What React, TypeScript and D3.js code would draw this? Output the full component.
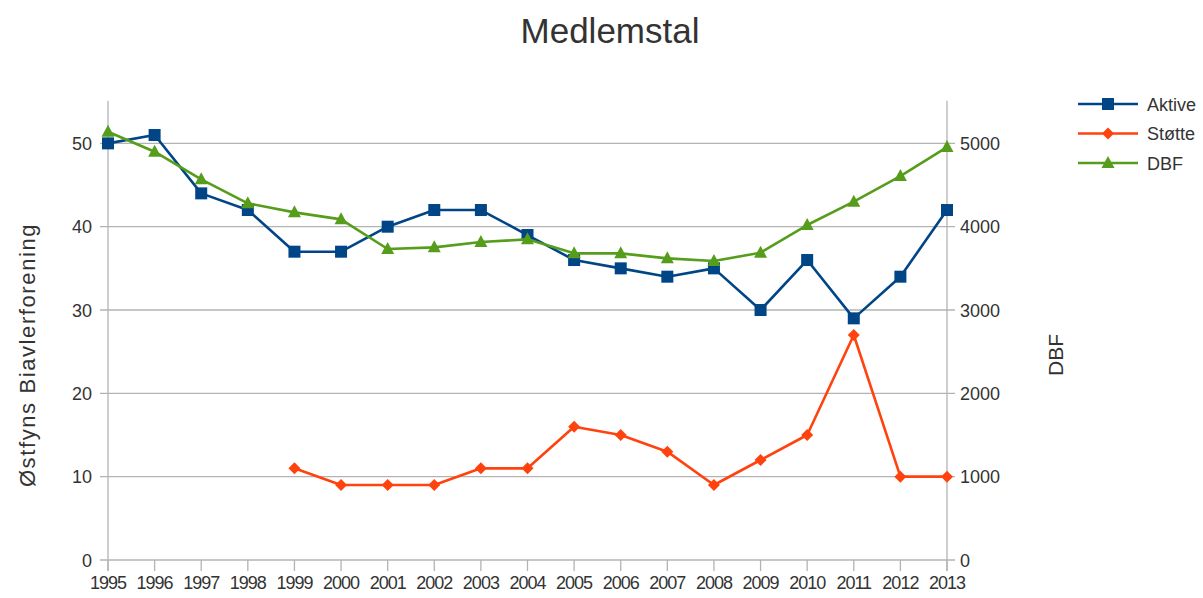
import React from "react";
import * as d3 from "d3";

const years = [1995, 1996, 1997, 1998, 1999, 2000, 2001, 2002, 2003, 2004, 2005, 2006, 2007, 2008, 2009, 2010, 2011, 2012, 2013];
const aktive = [50, 51, 44, 42, 37, 37, 40, 42, 42, 39, 36, 35, 34, 35, 30, 36, 29, 34, 42];
const stotte = [null, null, null, null, 11, 9, 9, 9, 11, 11, 16, 15, 13, 9, 12, 15, 27, 10, 10];
const dbf = [5140, 4900, 4568, 4280, 4172, 4088, 3732, 3752, 3816, 3848, 3680, 3680, 3620, 3588, 3688, 4020, 4300, 4608, 4956];
const leftTicks = [0, 10, 20, 30, 40, 50];
const rightTicks = [0, 1000, 2000, 3000, 4000, 5000];

const W = 1203;
const H = 598;
const left = 108;
const right = 947;
const top = 101.7;
const bottom = 560;

const COLORS = { aktive: "#004586", stotte: "#ff420e", dbf: "#579d1c" };
const FONT = "'Liberation Sans', Arial, sans-serif";

const Marker = ({ kind, x, y, color }: { kind: string; x: number; y: number; color: string }) => {
  if (kind === "square") return <rect x={x - 6} y={y - 6} width={12} height={12} fill={color} />;
  if (kind === "diamond")
    return <path d={`M${x},${y - 6}L${x + 6},${y}L${x},${y + 6}L${x - 6},${y}Z`} fill={color} />;
  return <path d={`M${x},${y - 7}L${x + 6.5},${y + 5}L${x - 6.5},${y + 5}Z`} fill={color} />;
};

export default function App() {
  const x = d3.scaleLinear().domain([1995, 2013]).range([left, right]);
  const yL = d3.scaleLinear().domain([0, 55]).range([bottom, top]);
  const yR = d3.scaleLinear().domain([0, 5500]).range([bottom, top]);

  const line = d3
    .line<[number, number | null]>()
    .defined((d) => d[1] != null)
    .x((d) => x(d[0]))
    .y((d) => d[1] as number);

  const series = [
    { name: "Aktive", kind: "square", color: COLORS.aktive, pts: years.map((yr, i) => [yr, yL(aktive[i])] as [number, number]) },
    {
      name: "Støtte",
      kind: "diamond",
      color: COLORS.stotte,
      pts: years.map((yr, i) => [yr, stotte[i] == null ? null : yL(stotte[i] as number)] as [number, number | null]),
    },
    { name: "DBF", kind: "triangle", color: COLORS.dbf, pts: years.map((yr, i) => [yr, yR(dbf[i])] as [number, number]) },
  ];

  return (
    <svg width={W} height={H} style={{ position: "absolute", left: 0, top: 0, background: "#fff" }} fontFamily={FONT}>
      <text x={610} y={43} textAnchor="middle" fontSize={35} fill="#333">
        Medlemstal
      </text>

      {/* grid + axes */}
      {leftTicks.map((t) => (
        <g key={t}>
          <line x1={100} x2={955} y1={yL(t)} y2={yL(t)} stroke="#b3b3b3" strokeWidth={1.3} />
          <text x={92} y={yL(t) + 6.5} textAnchor="end" fontSize={18} fill="#333">
            {t}
          </text>
        </g>
      ))}
      {rightTicks.map((t) => (
        <text key={t} x={960} y={yR(t) + 6.5} fontSize={18} fill="#333">
          {t}
        </text>
      ))}
      <line x1={left} x2={left} y1={top - 1} y2={bottom + 11} stroke="#b3b3b3" strokeWidth={1.3} />
      <line x1={right} x2={right} y1={top - 1} y2={bottom + 11} stroke="#b3b3b3" strokeWidth={1.3} />
      {years.map((yr) => (
        <g key={yr}>
          <line x1={x(yr)} x2={x(yr)} y1={bottom} y2={bottom + 11} stroke="#b3b3b3" strokeWidth={1.3} />
          <text x={x(yr)} y={589} textAnchor="middle" fontSize={18} letterSpacing={-1} fill="#333">
            {yr}
          </text>
        </g>
      ))}

      <text transform="translate(35,355) rotate(-90)" textAnchor="middle" fontSize={22} letterSpacing={1.6} fill="#333">
        Østfyns Biavlerforening
      </text>
      <text transform="translate(1063,355) rotate(-90)" textAnchor="middle" fontSize={21} fill="#333">
        DBF
      </text>

      {series.map((s) => (
        <g key={s.name}>
          <path d={line(s.pts) || ""} fill="none" stroke={s.color} strokeWidth={2.6} strokeLinejoin="round" />
          {s.pts
            .filter((p) => p[1] != null)
            .map((p) => (
              <Marker key={p[0]} kind={s.kind} x={x(p[0])} y={p[1] as number} color={s.color} />
            ))}
        </g>
      ))}

      {/* legend */}
      {series.map((s, i) => {
        const ly = 104 + i * 29.5;
        return (
          <g key={s.name}>
            <line x1={1078} x2={1138} y1={ly} y2={ly} stroke={s.color} strokeWidth={2.6} />
            <Marker kind={s.kind} x={1108} y={ly} color={s.color} />
            <text x={1147} y={ly + 6.5} fontSize={18} fill="#333">
              {s.name}
            </text>
          </g>
        );
      })}
    </svg>
  );
}
